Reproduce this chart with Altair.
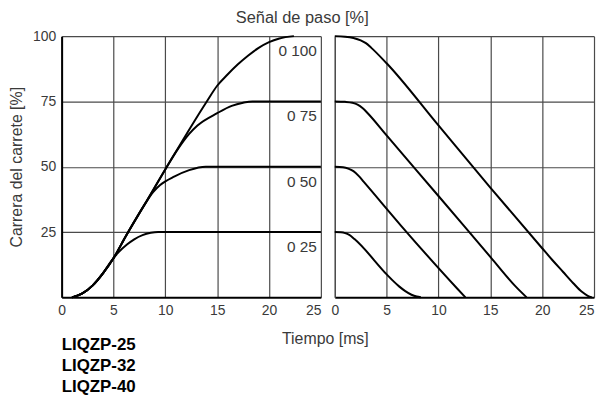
import altair as alt
import pandas as pd

# ---- Data ----
# Left panel: step up (time [ms], spool stroke [%])
up_100_t = [1.0, 2.0, 3.0, 4.0, 5.0, 6.2, 8.0, 10.15, 14.0, 15.0, 16.0, 17.0, 18.0, 19.0, 20.0, 21.0, 22.4]
up_100_v = [0, 1.5, 4.6, 9.3, 15.0, 23.5, 35.5, 50, 75, 81, 85.3, 89.2, 92.6, 95.5, 97.7, 99.1, 100]
up_75_t = [1.0, 2.0, 3.0, 4.0, 5.0, 6.2, 8.0, 10.15, 11.0, 12.3, 13.1, 15.0, 16.4, 17.5, 18.4, 25]
up_75_v = [0, 1.5, 4.6, 9.3, 15.0, 23.5, 35.5, 50, 55.5, 62.6, 65.8, 70.5, 73.3, 74.5, 75, 75]
up_50_t = [1.0, 2.0, 3.0, 4.0, 5.0, 6.2, 8.0, 8.8, 9.5, 10.9, 12.3, 13.9, 25]
up_50_v = [0, 1.5, 4.6, 9.3, 15.0, 23.5, 35.5, 40.2, 43, 46.3, 48.7, 50, 50]
up_25_t = [1.0, 2.0, 3.0, 4.0, 4.8, 5.5, 6.3, 7.0, 7.8, 8.6, 9.3, 25]
up_25_v = [0, 1.5, 4.6, 9.3, 14.0, 17.3, 20.2, 22.2, 23.8, 24.7, 25, 25]

# Right panel: step down
down_100_t = [0, 1.0, 1.8, 2.5, 3.0, 3.5, 5, 10, 15, 20, 21, 22, 23, 23.8, 24.4, 24.8]
down_100_v = [100, 99.8, 99.3, 98.4, 97.3, 95.6, 89.6, 65.8, 42, 18.8, 14.2, 9.8, 5.4, 2.2, 0.6, 0]
down_75_t = [0, 1.0, 1.7, 2.2, 2.7, 3.2, 5, 10, 15, 17.5, 18.5]
down_75_v = [75, 74.85, 74.5, 73.8, 72.4, 70.4, 62.0, 38.8, 15.5, 3.9, 0]
down_50_t = [0, 0.8, 1.3, 1.8, 2.3, 2.8, 6.4, 11.8, 12.6]
down_50_v = [50, 49.8, 49.3, 48.3, 46.5, 44.2, 27.4, 3.4, 0]
down_25_t = [0, 0.6, 1.0, 1.4, 1.9, 5.1, 5.6, 6.2, 6.8, 7.4, 7.9, 8.3]
down_25_v = [25, 24.9, 24.6, 23.9, 22.3, 8.4, 6.4, 4.2, 2.4, 1.0, 0.3, 0]

levels = [100, 75, 50, 25]
level_labels = ["0 100", "0 75", "0 50", "0 25"]
x_ticks = [0, 5, 10, 15, 20, 25]
y_ticks = [25, 50, 75, 100]
models = ["LIQZP-25", "LIQZP-32", "LIQZP-40"]


def frame(curves):
    rows = []
    for name, ts, vs in curves:
        for i, (t, v) in enumerate(zip(ts, vs)):
            rows.append({"curve": name, "i": i, "t": t, "v": v})
    return pd.DataFrame(rows)


left_df = frame([("100", up_100_t, up_100_v), ("75", up_75_t, up_75_v),
                 ("50", up_50_t, up_50_v), ("25", up_25_t, up_25_v)])
right_df = frame([("100", down_100_t, down_100_v), ("75", down_75_t, down_75_v),
                  ("50", down_50_t, down_50_v), ("25", down_25_t, down_25_v)])
label_df = pd.DataFrame({"level": levels, "txt": level_labels, "t": [25] * len(levels)})

W, H = 261, 263
FONT = "Liberation Sans"
TXT = "#3a3a3a"
GRID = "#4a4a4a"

yscale = alt.Scale(domain=[0, 100], nice=False, zero=True)
xscale = alt.Scale(domain=[0, 25], nice=False)
last_right = alt.condition("datum.value == 25", alt.value("right"), alt.value("center"))

x_axis_left = alt.Axis(values=x_ticks, grid=True, ticks=False, labelPadding=6,
                       labelAlign=last_right,
                       title="Tiempo [ms]", titleX=265, titleY=41, titleAlign="center",
                       titleBaseline="middle", titleAnchor="start")
y_axis_left = alt.Axis(values=y_ticks, grid=True, ticks=False, labelPadding=6,
                       title="Carrera del carrete [%]", titlePadding=8)

lines_left = alt.Chart(left_df).mark_line(color="black", strokeWidth=2, interpolate="monotone").encode(
    x=alt.X("t:Q", scale=xscale, axis=x_axis_left),
    y=alt.Y("v:Q", scale=yscale, axis=y_axis_left),
    detail="curve:N",
    order="i:Q",
)
labels_left = alt.Chart(label_df).mark_text(align="right", baseline="middle", dx=-4, dy=15,
                                            fontSize=15.5, font=FONT, color=TXT).encode(
    x=alt.X("t:Q", scale=xscale),
    y=alt.Y("level:Q", scale=yscale),
    text="txt:N",
)
left = alt.layer(lines_left, labels_left).properties(
    width=W, height=H,
    title=alt.TitleParams(text=models, orient="bottom", anchor="start", frame="group",
                          fontSize=17, fontWeight="bold", font=FONT, color="black",
                          lineHeight=21, offset=-9),
)

x_axis_right = alt.Axis(values=x_ticks, grid=True, ticks=False, labelPadding=6, title=None,
                        labelAlign=last_right)
y_axis_right = alt.Axis(values=y_ticks, grid=True, ticks=False, labels=False, title=None,
                        domainColor=GRID, domainWidth=1.2)
right = alt.Chart(right_df).mark_line(color="black", strokeWidth=2, interpolate="monotone").encode(
    x=alt.X("t:Q", scale=xscale, axis=x_axis_right),
    y=alt.Y("v:Q", scale=yscale, axis=y_axis_right),
    detail="curve:N",
    order="i:Q",
).properties(width=W, height=H)

chart = alt.hconcat(left, right, spacing=14, bounds="flush").properties(
    title=alt.TitleParams("Señal de paso [%]", anchor="middle", fontSize=16.5,
                          font=FONT, fontWeight="normal", color=TXT, offset=1, dy=-2),
    padding={"left": 0, "top": 0, "right": 0, "bottom": 0},
).configure_view(stroke=None).configure_axis(
    labelFont=FONT, titleFont=FONT, labelFontSize=14, titleFontSize=16,
    labelFontWeight="normal", titleFontWeight="normal", labelColor=TXT, titleColor=TXT,
    gridColor=GRID, gridWidth=1.2, gridOpacity=1,
    domainColor="black", domainWidth=2,
)

chart.save("out.html", embed_options={"renderer": "svg", "actions": False})
